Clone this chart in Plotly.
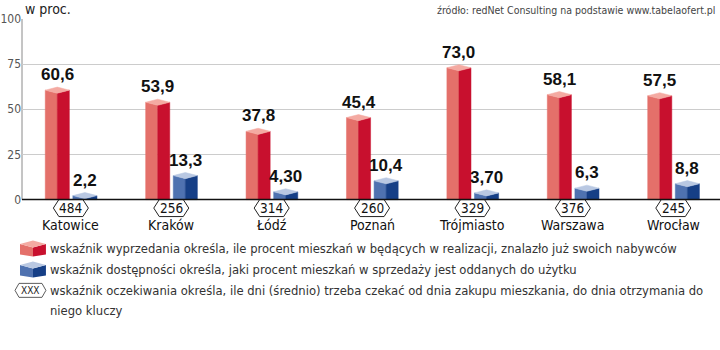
import plotly.graph_objects as go

# ---------------- data ----------------
cities = ["Katowice", "Kraków", "Łódź", "Poznań", "Trójmiasto", "Warszawa", "Wrocław"]
wyprzedanie = [60.6, 53.9, 37.8, 45.4, 73.0, 58.1, 57.5]
wyprzedanie_txt = ["60,6", "53,9", "37,8", "45,4", "73,0", "58,1", "57,5"]
dostepnosc = [2.2, 13.3, 4.30, 10.4, 3.70, 6.3, 8.8]
dostepnosc_txt = ["2,2", "13,3", "4,30", "10,4", "3,70", "6,3", "8,8"]
oczekiwanie = [484, 256, 314, 260, 329, 376, 245]
y_ticks = [0, 25, 50, 75, 100]

legend_texts = [
    "wskaźnik wyprzedania określa, ile procent mieszkań w będących w realizacji, znalazło już swoich nabywców",
    "wskaźnik dostępności określa, jaki procent mieszkań w sprzedaży jest oddanych do użytku",
    "wskaźnik oczekiwania określa, ile dni (średnio) trzeba czekać od dnia zakupu mieszkania, do dnia otrzymania do",
    "niego kluczy",
]

# ---------------- style ----------------
W, H = 720, 350
ML, MR, MT, MB = 20, 0, 19, 144.57
PW, PH = W - ML - MR, H - MT - MB
NARROW = "DejaVu Sans Condensed, Liberation Sans, sans-serif"
BOLD = "Liberation Sans, Arial, sans-serif"

RED = dict(left="#e4706a", right="#c8102e", top="#f4aaa2")
BLUE = dict(left="#4f72b0", right="#163f86", top="#b9c8e2")
OFF_RED, OFF_BLUE, HALF = -0.14, 0.135, 0.12
D = 1.7  # depth of the top face (in y units)


def px(xp):
    return (xp - ML) / PW


def py(yp):
    return (H - MB - yp) / PH


def prism_traces(values, offset, colors):
    left_x, left_y, right_x, right_y, top_x, top_y = [], [], [], [], [], []
    for i, v in enumerate(values):
        xc = i + offset
        xl, xr = xc - HALF, xc + HALF
        left_x += [xl, xc, xc, xl, xl, None]
        left_y += [0, 0, v - D, v, 0, None]
        right_x += [xc, xr, xr, xc, xc, None]
        right_y += [0, 0, v, v - D, 0, None]
        top_x += [xl, xc, xr, xc, xl, None]
        top_y += [v, v - D, v, v + D, v, None]
    out = []
    for xs, ys, c in [(left_x, left_y, colors["left"]), (right_x, right_y, colors["right"]),
                      (top_x, top_y, colors["top"])]:
        out.append(go.Scatter(x=xs, y=ys, mode="lines", fill="toself", fillcolor=c,
                              line=dict(color=c, width=0.5), hoverinfo="skip",
                              showlegend=False))
    return out


fig = go.Figure()
for t in prism_traces(wyprzedanie, OFF_RED, RED):
    fig.add_trace(t)
for t in prism_traces(dostepnosc, OFF_BLUE, BLUE):
    fig.add_trace(t)

annotations = []
shapes = []

# value labels
for i, (v, t) in enumerate(zip(wyprzedanie, wyprzedanie_txt)):
    annotations.append(dict(x=i + OFF_RED, y=v, text=t, showarrow=False, yanchor="bottom",
                            yshift=4, font=dict(family=BOLD, size=17, color="#111", weight="bold")))
for i, (v, t) in enumerate(zip(dostepnosc, dostepnosc_txt)):
    annotations.append(dict(x=i + OFF_BLUE, y=v, text=t, showarrow=False, yanchor="bottom",
                            yshift=4, font=dict(family=BOLD, size=17, color="#111", weight="bold")))

# hexagon labels and city names (paper y so they are not clipped)
cy = -(208.5 - (H - MB))    # hex centre relative to paper bottom, positive = up
hexpath = "M {a} {c} L {b} {t} L {nb} {t} L {na} {c} L {nb} {bt} L {b} {bt} Z".format(
    a=-17.5, b=-12, na=17.5, nb=12, c=cy, t=cy + 8.5, bt=cy - 8.5)
for i, (c, n) in enumerate(zip(cities, oczekiwanie)):
    shapes.append(dict(type="path", xref="x", yref="paper", xsizemode="pixel", ysizemode="pixel",
                       xanchor=i - 0.005, yanchor=0, path=hexpath,
                       fillcolor="white", line=dict(color="#222", width=1)))
    annotations.append(dict(x=i - 0.005, y=0, text=str(n), showarrow=False, yanchor="middle",
                            yshift=-8.5, font=dict(family=NARROW, size=13.5, color="#111")))
    annotations.append(dict(x=i - 0.005, y=0, text=c, showarrow=False, yanchor="middle",
                            yshift=-25, font=dict(family=NARROW, size=14, color="#111")))

# axis lines
shapes.append(dict(type="line", xref="paper", yref="y", x0=0, x1=1, y0=0, y1=0,
                   line=dict(color="#111", width=1.5), layer="above"))
shapes.append(dict(type="line", xref="paper", yref="y", x0=0, x1=0, y0=0, y1=100,
                   line=dict(color="#8a8a8a", width=1), layer="below"))

# titles
annotations.append(dict(xref="paper", yref="paper", x=px(21), y=py(9), text="w proc.",
                        showarrow=False, xanchor="left", yanchor="middle",
                        font=dict(family=NARROW, size=14, color="#222")))
annotations.append(dict(xref="paper", yref="paper", x=px(717), y=py(10),
                        text="źródło: redNet Consulting na podstawie www.tabelaofert.pl",
                        showarrow=False, xanchor="right", yanchor="middle",
                        font=dict(family=NARROW, size=10.5, color="#444")))


# legend icons
def cube_icon(x0, y0, w, colors):
    xm, xr = x0 + w / 2, x0 + w
    t, m, f, b = y0, y0 + 3.5, y0 + 7, y0 + 14

    def P(pts):
        return "M " + " L ".join(f"{px(a):.5f} {py(c):.5f}" for a, c in pts) + " Z"
    return [
        dict(type="path", xref="paper", yref="paper", path=P([(x0, m), (xm, f), (xm, b + 2), (x0, b)]),
             fillcolor=colors["left"], line=dict(width=0)),
        dict(type="path", xref="paper", yref="paper", path=P([(xm, f), (xr, m), (xr, b), (xm, b + 2)]),
             fillcolor=colors["right"], line=dict(width=0)),
        dict(type="path", xref="paper", yref="paper", path=P([(x0, m), (xm, t), (xr, m), (xm, f)]),
             fillcolor=colors["top"], line=dict(width=0)),
    ]


shapes += cube_icon(18, 241, 26, RED)
shapes += cube_icon(18, 262, 26, BLUE)
hx0, hy = 28.5, 291
shapes.append(dict(type="path", xref="paper", yref="paper",
                   path="M {} {} L {} {} L {} {} L {} {} L {} {} L {} {} Z".format(
                       px(hx0 - 15.5), py(hy), px(hx0 - 11.5), py(hy - 7), px(hx0 + 11.5), py(hy - 7),
                       px(hx0 + 15.5), py(hy), px(hx0 + 11.5), py(hy + 7), px(hx0 - 11.5), py(hy + 7)),
                   fillcolor="white", line=dict(color="#333", width=0.8)))
annotations.append(dict(xref="paper", yref="paper", x=px(hx0), y=py(hy), text="XXX", showarrow=False,
                        xanchor="center", yanchor="middle",
                        font=dict(family=NARROW, size=10, color="#222")))

for t, yy in zip(legend_texts, [249, 270, 291, 311]):
    annotations.append(dict(xref="paper", yref="paper", x=px(46), y=py(yy), text=t, showarrow=False,
                            xanchor="left", yanchor="middle",
                            font=dict(family=NARROW, size=12.9, color="#333")))

fig.update_layout(
    width=W, height=H,
    margin=dict(l=ML, r=MR, t=MT, b=MB, pad=0),
    paper_bgcolor="white", plot_bgcolor="white",
    showlegend=False,
    xaxis=dict(range=[-0.4916, 6.46], showticklabels=False, showgrid=False, zeroline=False,
               showline=False, fixedrange=True),
    yaxis=dict(range=[-3, 100], tickvals=y_ticks, ticktext=[str(v) for v in y_ticks],
               showgrid=True, gridcolor="#cccccc", gridwidth=1, zeroline=False, showline=False,
               ticks="", tickfont=dict(family=NARROW, size=12, color="#555"), fixedrange=True),
    annotations=annotations,
    shapes=shapes,
)

fig.write_html("out.html")
